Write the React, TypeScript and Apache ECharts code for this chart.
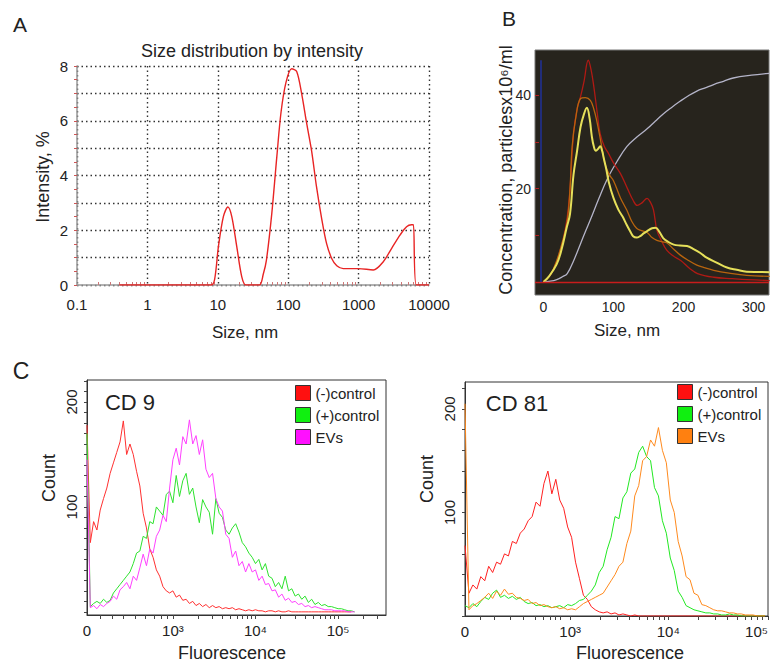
import React, { useEffect, useRef } from "react";
import * as echarts from "echarts";

const FONT = "'Liberation Sans', Arial, Helvetica, sans-serif";
const INK = "#222";

// ---------- Panel A: DLS size distribution by intensity ----------
const dlsSizeNm = [0.4, 1, 3, 8, 9, 10.2, 12, 13.9, 15.8, 18.6, 21.9, 25, 39, 44.3, 49, 58.4, 69, 79, 93, 112, 132, 155, 183, 215, 252, 300, 352, 415, 490, 605, 1000, 1620, 2240, 2950, 3890, 4800, 5630, 6000, 6600, 10000];
const dlsIntensityPct = [0, 0, 0, 0, 0.2, 1.4, 2.5, 2.85, 2.5, 1.4, 0.3, 0, 0, 0.4, 0.9, 2.6, 4.7, 6.3, 7.4, 7.9, 7.8, 7.0, 5.9, 4.9, 3.6, 2.4, 1.5, 0.97, 0.7, 0.6, 0.6, 0.55, 0.85, 1.34, 1.83, 2.13, 2.2, 2.2, 0, 0];
const dlsXLabels = [0.1, 1, 10, 100, 1000, 10000];

// ---------- Panel B: NTA concentration vs size ----------
const ntaRun1: [number, number][] = [[0, 0], [10, 1.5], [19.5, 4.6], [28, 9], [34, 13.9], [38, 20], [43, 31.8], [48, 37], [53, 39.7], [58, 43], [64, 47.5], [68, 45.5], [72, 41.8], [77, 36], [81, 31.8], [87, 29], [93, 27.5], [100, 25.5], [110, 23.2], [120, 20], [128, 17.5], [134, 16.4], [141, 17], [148, 17.9], [153, 17], [157, 15.5], [162, 11.1], [168, 9], [176, 6.8], [186, 5.5], [196, 4.6], [208, 3], [220, 1.8], [243, 1.0], [270, 0.7], [291, 0.5], [323, 0.3]];
const ntaRun2: [number, number][] = [[0, 0], [10, 1.5], [19, 4.6], [27, 8.5], [34, 13], [38, 20], [41, 29], [46, 35], [53, 39.3], [60, 39.5], [67, 38.9], [72, 37], [76, 34.6], [82, 30], [88, 25.3], [94, 23], [100, 21.7], [110, 18], [119, 15.4], [126, 13], [133, 11.5], [140, 11], [148, 10.6], [155, 9.5], [162, 8.9], [170, 8.6], [176, 8.4], [186, 7], [195, 5.8], [207, 4.6], [219, 3.6], [231, 3], [243, 2.5], [265, 1.9], [290, 1.4], [323, 1.2]];
const ntaMean: [number, number][] = [[0, 0], [8, 1.2], [19, 3.8], [26, 7], [33, 11.5], [38, 14.6], [43, 23], [48, 28], [53, 33.2], [58, 36], [62, 37.3], [66, 35], [69, 31.3], [72, 29], [75, 28.1], [78, 28.5], [81, 29.1], [84, 28], [86, 26.6], [90, 24], [93, 21.6], [100, 18], [107, 15.5], [113, 14], [119, 12.2], [124, 10.8], [128, 9.8], [133, 9.5], [138, 9.8], [143, 10.4], [148, 10.9], [155, 11.5], [160, 11.6], [166, 10.6], [171, 9.4], [178, 8.6], [186, 8], [195, 7.8], [205, 7.7], [215, 7], [224, 6.2], [233, 5.2], [248, 4.1], [262, 3.1], [276, 2.6], [290, 2.2], [323, 2.1]];
const ntaCumulative: [number, number][] = [[0, 0], [10, 0.15], [19, 0.5], [27, 1.1], [34, 1.8], [43, 4.5], [53, 8.2], [60, 10.8], [67, 13.3], [79, 17.8], [91, 22], [105, 25.8], [119, 29], [133, 31], [148, 32.8], [160, 34.5], [171, 36], [183, 37.4], [195, 38.7], [207, 39.9], [219, 40.9], [231, 41.6], [243, 42.3], [257, 43], [271, 43.7], [297, 44.3], [323, 44.7]];
const ntaXLabels = [0, 100, 200, 300];
const ntaYLabels = [20, 40];

// ---------- Panel C: flow cytometry histograms (bins on display scale) ----------
const histBinWidth = 0.04;
const decadeLabels = ["0", "10³", "10⁴", "10⁵"];
const cd9DecadePos = [0, 1.04, 2.04, 3.04];
const cd81DecadePos = [0, 1.066, 2.06, 3.07];
const cd9LinearTicks = [0.16, 0.3, 0.44, 0.58, 0.7, 0.81, 0.9, 0.97];
const cd81LinearTicks = [0.15, 0.3, 0.46, 0.59, 0.71, 0.79, 0.86, 0.91, 0.97];

const cd9Negative = [178, 66, 86, 78, 97, 108, 118, 132, 142, 152, 162, 182, 150, 160, 150, 134, 120, 94, 80, 60, 52, 40, 34, 24, 20, 18, 20, 14, 16, 11, 12, 8, 10, 6, 8, 5, 7, 4, 6, 4, 5, 3, 4, 3, 4, 2, 3, 2, 1, 2, 1, 2, 1, 1, 0, 1, 1, 0, 1, 0, 0, 1, 0, 0, 0, 0, 0, 0, 0, 0, 0, 0, 0, 0, 0, 0, 0, 0, 0, 0, 0];
const cd9Positive = [170, 5, 8, 10, 8, 12, 9, 11, 18, 22, 26, 30, 34, 38, 46, 56, 58, 72, 70, 86, 84, 100, 96, 92, 112, 115, 104, 130, 110, 125, 132, 112, 118, 100, 85, 107, 100, 95, 74, 108, 94, 90, 78, 74, 80, 84, 76, 66, 62, 56, 52, 46, 50, 40, 46, 34, 32, 24, 28, 22, 34, 20, 22, 15, 17, 12, 15, 9, 12, 7, 9, 6, 7, 5, 5, 4, 3, 3, 2, 1, 1, 0];
const cd9EVs = [145, 4, 6, 3, 7, 5, 8, 10, 15, 12, 21, 24, 28, 22, 34, 30, 42, 55, 44, 60, 56, 72, 78, 92, 86, 118, 145, 156, 140, 167, 160, 183, 160, 168, 150, 164, 136, 128, 132, 108, 100, 96, 74, 70, 52, 58, 44, 48, 38, 46, 38, 40, 30, 34, 26, 27, 20, 21, 14, 17, 11, 13, 9, 10, 7, 8, 5, 6, 4, 5, 4, 3, 2, 2, 2, 1, 1, 1, 1, 0, 0, 0];

const cd81Negative = [68, 22, 30, 26, 38, 34, 48, 42, 52, 50, 60, 58, 72, 70, 80, 84, 92, 96, 110, 106, 128, 140, 118, 132, 112, 104, 86, 76, 52, 36, 20, 16, 9, 6, 4, 3, 4, 2, 3, 1, 2, 1, 0, 1, 0, 0, 0, 0, 0, 0, 0, 0, 0, 0, 0, 0, 0, 0, 0, 0, 0, 0, 0, 0, 0, 0, 0, 0, 0, 0, 0, 0, 0, 0, 0, 0, 0];
const cd81Positive = [10, 8, 12, 9, 14, 18, 16, 22, 25, 18, 20, 17, 19, 16, 18, 14, 12, 13, 10, 11, 9, 10, 8, 9, 10, 8, 11, 10, 12, 15, 16, 20, 24, 30, 42, 48, 64, 76, 96, 94, 114, 120, 138, 142, 158, 164, 154, 150, 124, 116, 92, 80, 56, 44, 24, 18, 10, 8, 6, 5, 4, 3, 3, 2, 2, 1, 1, 2, 1, 1, 0, 0, 0, 0, 0, 0, 0];
const cd81EVs = [205, 6, 10, 12, 15, 18, 22, 17, 24, 20, 26, 21, 22, 18, 17, 15, 16, 12, 13, 10, 11, 9, 8, 9, 7, 8, 6, 7, 6, 9, 12, 14, 16, 18, 20, 22, 28, 34, 40, 48, 52, 70, 82, 116, 126, 150, 154, 170, 164, 182, 160, 148, 112, 100, 72, 58, 38, 35, 22, 20, 11, 10, 8, 6, 5, 5, 4, 3, 3, 2, 2, 1, 1, 1, 0, 0, 0];

const countTicksCd9 = [0, 10, 20, 30, 40, 50, 60, 70, 80, 90, 100, 110, 120, 130, 140, 150, 160, 170, 180, 190, 200, 210, 220];
const countTicksCd81 = [0, 20, 40, 60, 80, 100, 120, 140, 160, 180, 200, 220];
const countLabels = [100, 200];

function histData(counts: number[]) {
  return counts.map((c, i) => [i * histBinWidth, c]);
}

function cytoTicks(linear: number[], decades: number[], max: number) {
  const out = [...linear];
  for (let k = 1; k < decades.length; k++) {
    out.push(decades[k]);
    for (let m = 2; m <= 9; m++) {
      const p = decades[k] + Math.log10(m);
      if (p <= max) out.push(p);
    }
  }
  return out;
}

function decadeFormatter(pos: number[]) {
  return (v: number) => {
    let best = 0;
    for (let i = 1; i < pos.length; i++) if (Math.abs(pos[i] - v) < Math.abs(pos[best] - v)) best = i;
    return decadeLabels[best];
  };
}

const aMinorTicks: number[] = [];
for (let n = -1; n <= 3; n++) for (let m = 2; m <= 9; m++) aMinorTicks.push(n + Math.log10(m));

const dotted = { color: "#333", type: [1.5, 3] as number[], width: 1.4 };

function buildOption() {
  const txt = (text: string, x: number, y: number, size: number, rot = 0) => ({
    type: "text",
    x,
    y,
    rotation: rot,
    style: { text, fontSize: size, fontFamily: FONT, fill: INK, align: "center", verticalAlign: "middle" },
  });

  const cytoX = (grid: number, max: number, decades: number[], linear: number[], alignLast = false) => ({
    type: "value",
    gridIndex: grid,
    min: 0,
    max,
    axisLine: { show: true, onZero: false, lineStyle: { color: "#333", width: 1 } },
    axisTick: { show: true, customValues: cytoTicks(linear, decades, max), length: 4, lineStyle: { color: "#444" } },
    axisLabel: {
      customValues: decades,
      formatter: decadeFormatter(decades),
      fontSize: 15,
      color: INK,
      fontFamily: FONT,
      margin: 8,
      ...(alignLast ? { alignMaxLabel: "right" } : {}),
    },
    splitLine: { show: false },
  });

  const cytoY = (grid: number, min: number, max: number, ticks: number[]) => ({
    type: "value",
    gridIndex: grid,
    min,
    max,
    axisLine: { show: true, onZero: false, lineStyle: { color: "#333", width: 1 } },
    axisTick: { show: true, customValues: ticks, length: 3, lineStyle: { color: "#444" } },
    axisLabel: { customValues: countLabels, rotate: 90, fontSize: 15, color: INK, fontFamily: FONT, margin: 8 },
    splitLine: { show: false },
  });

  const hist = (name: string, counts: number[], color: string, xi: number, yi: number) => ({
    name,
    type: "line",
    xAxisIndex: xi,
    yAxisIndex: yi,
    data: histData(counts),
    showSymbol: false,
    color,
    lineStyle: { color, width: 1 },
    silent: true,
  });

  const nta = (name: string, data: [number, number][], color: string, width: number, extra: any = {}) => ({
    name,
    type: "line",
    xAxisIndex: 2,
    yAxisIndex: 1,
    data,
    smooth: 0.4,
    showSymbol: false,
    color,
    lineStyle: { color, width },
    silent: true,
    ...extra,
  });

  return {
    animation: false,
    backgroundColor: "#ffffff",
    textStyle: { fontFamily: FONT },
    grid: [
      { left: 77, top: 66, width: 352, height: 219, outerBoundsMode: "none", containLabel: false },
      { left: 535, top: 50, width: 234, height: 245, show: true, backgroundColor: "#27241d", borderColor: "#777", borderWidth: 1, outerBoundsMode: "none", containLabel: false },
      { left: 87, top: 380, width: 299, height: 235, show: true, borderColor: "#333", borderWidth: 1, outerBoundsMode: "none", containLabel: false },
      { left: 465, top: 382, width: 303, height: 234, show: true, borderColor: "#333", borderWidth: 1, outerBoundsMode: "none", containLabel: false },
    ],
    xAxis: [
      {
        type: "log",
        logBase: 10,
        gridIndex: 0,
        min: 0.1,
        max: 10000,
        axisLine: { show: true, onZero: false, lineStyle: { color: "#999", width: 1.5 } },
        axisTick: { show: false },
        axisLabel: { customValues: dlsXLabels, fontSize: 15, color: INK, fontFamily: FONT, margin: 12, formatter: (v: number) => String(v) },
        splitLine: { show: true, lineStyle: dotted },
      },
      {
        type: "value",
        gridIndex: 0,
        min: -1,
        max: 4,
        position: "bottom",
        axisLine: { show: false, onZero: false },
        axisLabel: { show: false },
        splitLine: { show: false },
        axisTick: { show: true, customValues: aMinorTicks, inside: true, length: 3, lineStyle: { color: "#c77" } },
      },
      {
        type: "value",
        gridIndex: 1,
        min: -12,
        max: 322,
        axisLine: { show: false, onZero: false },
        axisTick: { show: false },
        splitLine: { show: false },
        axisLabel: { customValues: ntaXLabels, fontSize: 14, color: INK, fontFamily: FONT, margin: 5 },
      },
      cytoX(2, 3.62, cd9DecadePos, cd9LinearTicks),
      cytoX(3, 3.07, cd81DecadePos, cd81LinearTicks, true),
    ],
    yAxis: [
      {
        type: "value",
        gridIndex: 0,
        min: 0,
        max: 8,
        interval: 1,
        axisLine: { show: true, onZero: false, lineStyle: { color: "#999", width: 1.5 } },
        axisTick: { show: true, length: 3, lineStyle: { color: "#c55" } },
        minorTick: { show: true, splitNumber: 2, length: 3, lineStyle: { color: "#c55" } },
        axisLabel: { fontSize: 15, color: INK, fontFamily: FONT, margin: 9, formatter: (v: number) => (v % 2 === 0 ? String(v) : "") },
        splitLine: { show: true, lineStyle: dotted },
      },
      {
        type: "value",
        gridIndex: 1,
        min: -2.8,
        max: 49.7,
        axisLine: { show: false, onZero: false },
        axisTick: { show: true, customValues: [10, 20, 30, 40], inside: true, length: 4, lineStyle: { color: "#b02020" } },
        splitLine: { show: false },
        axisLabel: { customValues: ntaYLabels, fontSize: 14, color: INK, fontFamily: FONT, margin: 4 },
      },
      cytoY(2, -3, 221, countTicksCd9),
      cytoY(3, 0, 226, countTicksCd81),
    ],
    legend: [
      {
        left: 295,
        top: 385,
        orient: "vertical",
        icon: "rect",
        itemWidth: 15,
        itemHeight: 15,
        itemGap: 6,
        padding: 0,
        selectedMode: false,
        itemStyle: { borderColor: "#333", borderWidth: 1 },
        textStyle: { fontSize: 15, color: INK, fontFamily: FONT },
        data: [
          { name: "(-)control", itemStyle: { color: "#ff1010" } },
          { name: "(+)control", itemStyle: { color: "#10f010" } },
          { name: "EVs", itemStyle: { color: "#ff10ff" } },
        ],
      },
      {
        left: 677,
        top: 384,
        orient: "vertical",
        icon: "rect",
        itemWidth: 15,
        itemHeight: 15,
        itemGap: 6,
        padding: 0,
        selectedMode: false,
        itemStyle: { borderColor: "#333", borderWidth: 1 },
        textStyle: { fontSize: 15, color: INK, fontFamily: FONT },
        data: [
          { name: "(-)control", itemStyle: { color: "#ff1010" } },
          { name: "(+)control", itemStyle: { color: "#10f010" } },
          { name: "EVs", itemStyle: { color: "#ff8010" } },
        ],
      },
    ],
    series: [
      {
        name: "Intensity",
        type: "line",
        xAxisIndex: 0,
        yAxisIndex: 0,
        data: dlsSizeNm.map((s, i) => [s, dlsIntensityPct[i]]),
        smooth: 0.3,
        showSymbol: false,
        color: "#e82424",
        lineStyle: { color: "#e82424", width: 1.4 },
        silent: true,
      },
      nta("Cumulative", ntaCumulative, "#b4b4c8", 1.3),
      nta("Run 1", ntaRun1, "#b01a14", 1.3, {
        markLine: {
          silent: true,
          symbol: "none",
          label: { show: false },
          lineStyle: { color: "#c81c1c", width: 1.3, type: "solid" },
          data: [{ yAxis: 0 }],
        },
      }),
      nta("Run 2", ntaRun2, "#b8640e", 1.3, {
        markLine: {
          silent: true,
          symbol: "none",
          label: { show: false },
          lineStyle: { color: "#20309a", width: 1.5, type: "solid" },
          data: [[{ coord: [-4, 0] }, { coord: [-4, 47.5] }]],
        },
      }),
      nta("Mean", ntaMean, "#e6e05a", 2),
      hist("(-)control", cd9Negative, "#ff3030", 3, 2),
      hist("(+)control", cd9Positive, "#2ee22e", 3, 2),
      hist("EVs", cd9EVs, "#ff40ff", 3, 2),
      hist("(-)control", cd81Negative, "#ff2020", 4, 3),
      hist("(+)control", cd81Positive, "#22e822", 4, 3),
      hist("EVs", cd81EVs, "#ff8a1e", 4, 3),
    ],
    graphic: [
      txt("A", 20, 24, 21),
      txt("B", 509, 18, 21),
      txt("C", 21, 371, 23),
      txt("Size distribution by intensity", 252, 51, 18),
      txt("Intensity, %", 43, 177, 18, Math.PI / 2),
      txt("Size, nm", 245, 332, 17),
      txt("Concentration, particlesx10⁶/ml", 506, 170, 18, Math.PI / 2),
      txt("Size, nm", 627, 330, 17),
      txt("CD 9", 130, 402, 22),
      txt("Count", 49, 478, 18, Math.PI / 2),
      txt("Fluorescence", 232, 653, 18),
      txt("CD 81", 517, 403, 22),
      txt("Count", 427, 479, 18, Math.PI / 2),
      txt("Fluorescence", 630, 653, 18),
    ],
  };
}

export default function App() {
  const ref = useRef<HTMLDivElement>(null);
  useEffect(() => {
    if (!ref.current) return;
    const chart = echarts.init(ref.current, undefined, { renderer: "svg" });
    chart.setOption(buildOption() as any);
    return () => chart.dispose();
  }, []);
  return (
    <div
      ref={ref}
      style={{ position: "absolute", left: 0, top: 0, width: 777, height: 664, background: "#fff" }}
    />
  );
}
